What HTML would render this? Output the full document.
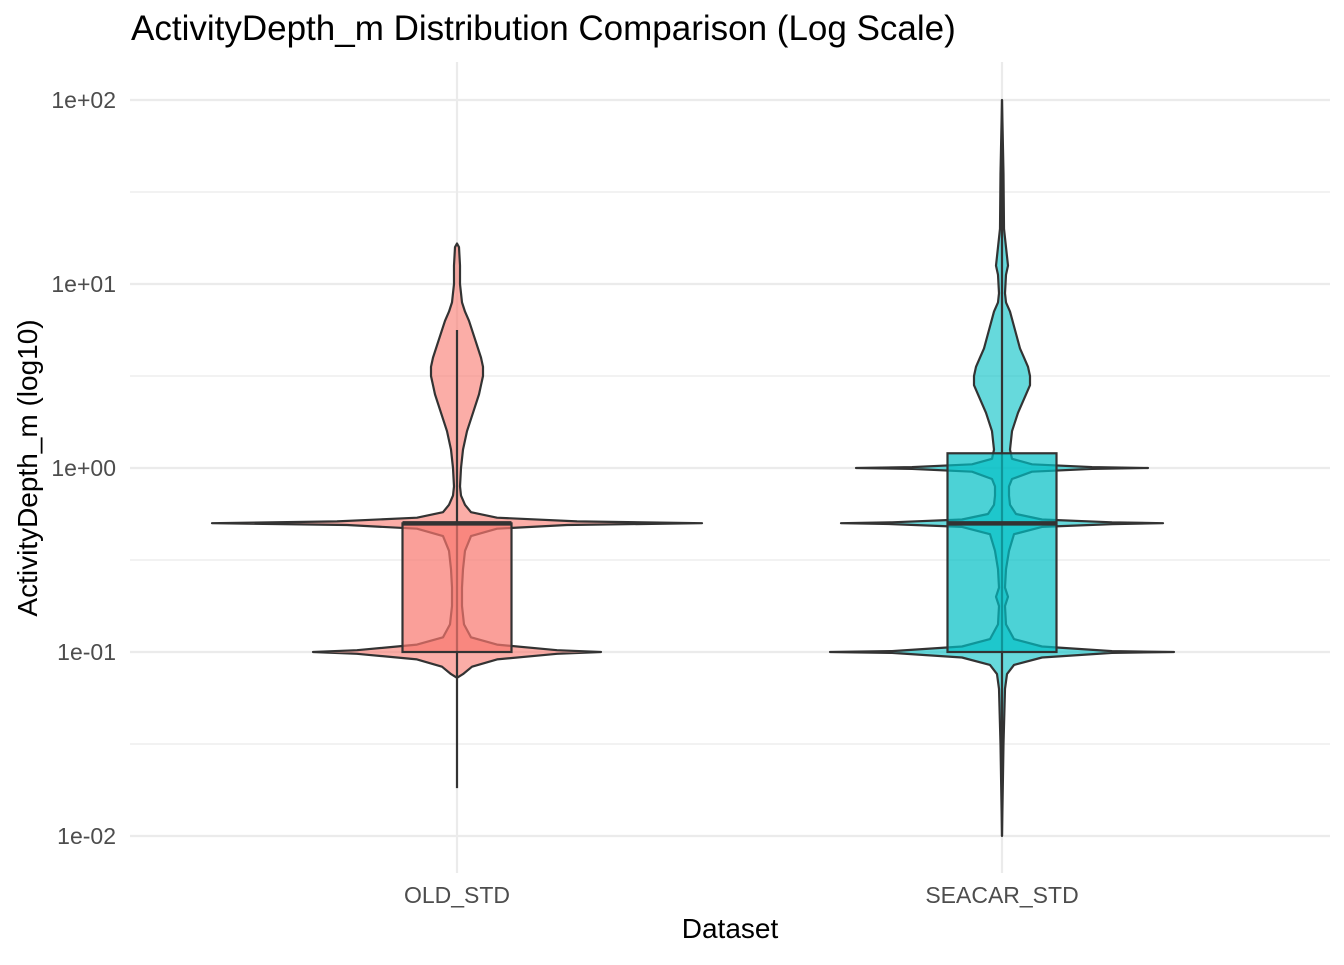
<!DOCTYPE html>
<html><head><meta charset="utf-8"><style>
body{margin:0;background:#fff;}
svg text{font-family:"Liberation Sans",sans-serif;}
</style></head><body>
<svg id="chart" width="1344" height="960" xmlns="http://www.w3.org/2000/svg">
<rect width="1344" height="960" fill="#fff"/>
<text x="131" y="40" font-size="35" fill="#000">ActivityDepth_m Distribution Comparison (Log Scale)</text>
<text transform="translate(37,468) rotate(-90)" text-anchor="middle" font-size="28" fill="#000">ActivityDepth_m (log10)</text>
<text x="730" y="938" text-anchor="middle" font-size="28" fill="#000">Dataset</text>
<g id="grid"></g><g id="marks"></g><g id="labels"></g>
</svg>
<script>
const categories=["OLD_STD","SEACAR_STD"];
const yTickValues=[-2,-1,0,1,2];
const yTickLabels=["1e-02","1e-01","1e+00","1e+01","1e+02"];
const oldLog=[1.22,1.2,1.1,1.0,0.9,0.85,0.8,0.7,0.6,0.55,0.5,0.45,0.4,0.3,0.2,0.1,0.0,-0.1,-0.15,-0.2,-0.24,-0.27,-0.29,-0.3,-0.31,-0.33,-0.37,-0.45,-0.55,-0.65,-0.75,-0.85,-0.92,-0.96,-0.99,-1.0,-1.01,-1.04,-1.08,-1.12,-1.14];
const oldDens=[0,2,3,3,5,8,12,18,24,26,26,24,22,16,10,6,4,3,4,8,14,40,120,245,110,40,14,8,6,5,5,7,14,40,100,144,100,40,15,6,0];
const seaLog=[2.0,1.6,1.3,1.15,1.1,1.05,0.95,0.9,0.85,0.75,0.65,0.6,0.55,0.5,0.45,0.4,0.3,0.2,0.1,0.05,0.02,0.005,0.0,-0.005,-0.02,-0.06,-0.1,-0.15,-0.2,-0.25,-0.28,-0.295,-0.3,-0.305,-0.32,-0.36,-0.45,-0.55,-0.65,-0.7,-0.75,-0.85,-0.93,-0.97,-0.995,-1.0,-1.005,-1.03,-1.07,-1.12,-1.2,-1.5,-2.0];
const seaDens=[0,1.5,2,5,6,4,3,4,8,13,18,22,26,28,28,24,16,10,8,10,30,90,146,90,30,10,7,7,8,14,40,110,161,110,40,12,7,4,3,6,3,4,12,40,110,172,110,40,12,5,3,1.5,0];
// box stats: [whiskerLow, q1, median, q3, whiskerHigh] in log10
const oldBox=[-1.74,-1,-0.301,-0.301,0.75];
const seaBox=[-2,-1,-0.301,0.08,2];
const fills=["#F8766D","#00BFC4"];

const NS="http://www.w3.org/2000/svg";
const yS=v=>468-184*v;
const xS=i=>457+545*i;
const wS=d=>d;
function mk(t,a,p){const e=document.createElementNS(NS,t);for(const k in a)e.setAttribute(k,a[k]);p.appendChild(e);return e;}
const grid=document.getElementById('grid'),marks=document.getElementById('marks'),labels=document.getElementById('labels');
for(let v=-2.5;v<=2.01;v+=0.5){
 const major=Math.abs(v-Math.round(v))<1e-6;
 if(!major&&(v<-2||v>2))continue;
 const l=mk('line',{x1:130,x2:1330,y1:yS(v),y2:yS(v),stroke:'#ebebeb','stroke-width':major?2.2:1.2},grid);
 
 
}
categories.forEach((c,i)=>{
 const l=mk('line',{x1:xS(i),x2:xS(i),y1:62,y2:873,stroke:'#ebebeb','stroke-width':2.2},grid);
 
 
 const t=mk('text',{x:xS(i),y:903,'text-anchor':'middle','font-size':23,fill:'#4d4d4d'},labels);t.textContent=c;
 
 
});
yTickValues.forEach((v,k)=>{
 const t=mk('text',{x:116,y:yS(v)+8,'text-anchor':'end','font-size':23,fill:'#4d4d4d'},labels);t.textContent=yTickLabels[k];
 
 
});
function violin(i,logs,dens,box){
 const cx=xS(i);let r=[],l=[];
 logs.forEach((v,k)=>{r.push((cx+wS(dens[k])).toFixed(1)+','+yS(v).toFixed(1));l.unshift((cx-wS(dens[k])).toFixed(1)+','+yS(v).toFixed(1));});
 const p=mk('polygon',{points:r.concat(l).join(' '),fill:fills[i],'fill-opacity':0.6,stroke:'#333','stroke-width':2.2,'stroke-linejoin':'round'},marks);
 
 
 const w=mk('line',{x1:cx,x2:cx,y1:yS(box[0]),y2:yS(box[4]),stroke:'#333','stroke-width':2.2},marks);
 
 
 const b=mk('rect',{x:cx-54.5,y:yS(box[3]),width:109,height:yS(box[1])-yS(box[3]),fill:fills[i],'fill-opacity':0.7,stroke:'#333','stroke-width':2.2},marks);
 
 
 const m=mk('line',{x1:cx-54.5,x2:cx+54.5,y1:yS(box[2]),y2:yS(box[2]),stroke:'#333','stroke-width':4.5},marks);
 
 
}
violin(0,oldLog,oldDens,oldBox);
violin(1,seaLog,seaDens,seaBox);
</script>
</body></html>
